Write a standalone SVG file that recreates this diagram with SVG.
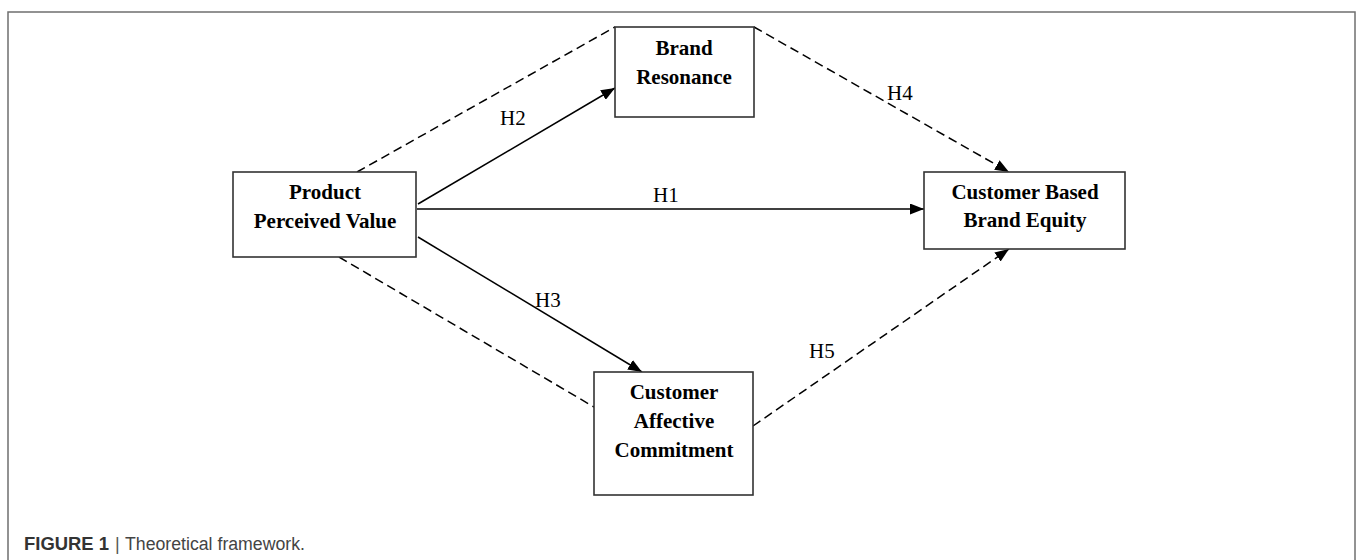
<svg xmlns="http://www.w3.org/2000/svg" width="1358" height="560" viewBox="0 0 1358 560">
<style>
.frame{fill:none;stroke:#6f6f6f;stroke-width:1.5}
.box{fill:#fff;stroke:#333;stroke-width:1.6}
.lbl{font-family:"Liberation Serif","Times New Roman",serif;font-weight:bold;font-size:21px;fill:#000;text-anchor:middle}
.h{font-family:"Liberation Serif","Times New Roman",serif;font-size:21px;fill:#000}
.solid{fill:none;stroke:#000;stroke-width:1.5}
.dash{fill:none;stroke:#000;stroke-width:1.5;stroke-dasharray:9 5}
.cap{font-family:"Liberation Sans",Arial,sans-serif;font-size:18px}
</style>
<defs>
<marker id="arr" viewBox="0 0 14 11" refX="14" refY="5.5" markerWidth="14" markerHeight="11" markerUnits="userSpaceOnUse" orient="auto">
<path d="M0,0 L14,5.5 L0,11 Z" fill="#000"/>
</marker>
</defs>
<rect x="8" y="12" width="1347" height="570" class="frame"/>
<g id="connectors">
<line x1="417" y1="209" x2="924" y2="209" class="solid" marker-end="url(#arr)"/>
<line x1="418" y1="204" x2="615" y2="88" class="solid" marker-end="url(#arr)"/>
<line x1="418" y1="237" x2="642" y2="372" class="solid" marker-end="url(#arr)"/>
<line x1="754" y1="27" x2="1009" y2="172" class="dash" marker-end="url(#arr)"/>
<line x1="753" y1="426" x2="1009" y2="249" class="dash" marker-end="url(#arr)"/>
<line x1="357" y1="172" x2="615" y2="27" class="dash"/>
<line x1="339" y1="257" x2="594" y2="407" class="dash"/>
<text x="653" y="202" class="h">H1</text>
<text x="500" y="125" class="h">H2</text>
<text x="535" y="307" class="h">H3</text>
<text x="887" y="100" class="h">H4</text>
<text x="809" y="358" class="h">H5</text>
</g>
<g id="ppv">
<rect x="233" y="172" width="183" height="85" class="box"/>
<text x="325" y="199" class="lbl">Product</text>
<text x="325" y="228" class="lbl">Perceived Value</text>
</g>
<g id="br">
<rect x="615" y="27" width="139" height="90" class="box"/>
<text x="684" y="55" class="lbl">Brand</text>
<text x="684" y="84" class="lbl">Resonance</text>
</g>
<g id="cbbe">
<rect x="924" y="172" width="201" height="77" class="box"/>
<text x="1025" y="199" class="lbl">Customer Based</text>
<text x="1025" y="227" class="lbl">Brand Equity</text>
</g>
<g id="cac">
<rect x="594" y="372" width="159" height="123" class="box"/>
<text x="674" y="399" class="lbl">Customer</text>
<text x="674" y="428" class="lbl">Affective</text>
<text x="674" y="457" class="lbl">Commitment</text>
</g>
<g id="caption">
<text x="24" y="550" class="cap" font-weight="bold" fill="#333" textLength="85" lengthAdjust="spacingAndGlyphs">FIGURE 1</text>
<text x="115" y="550" class="cap" fill="#555">|</text>
<text x="125" y="550" class="cap" fill="#444" textLength="180" lengthAdjust="spacingAndGlyphs">Theoretical framework.</text>
</g>
</svg>
